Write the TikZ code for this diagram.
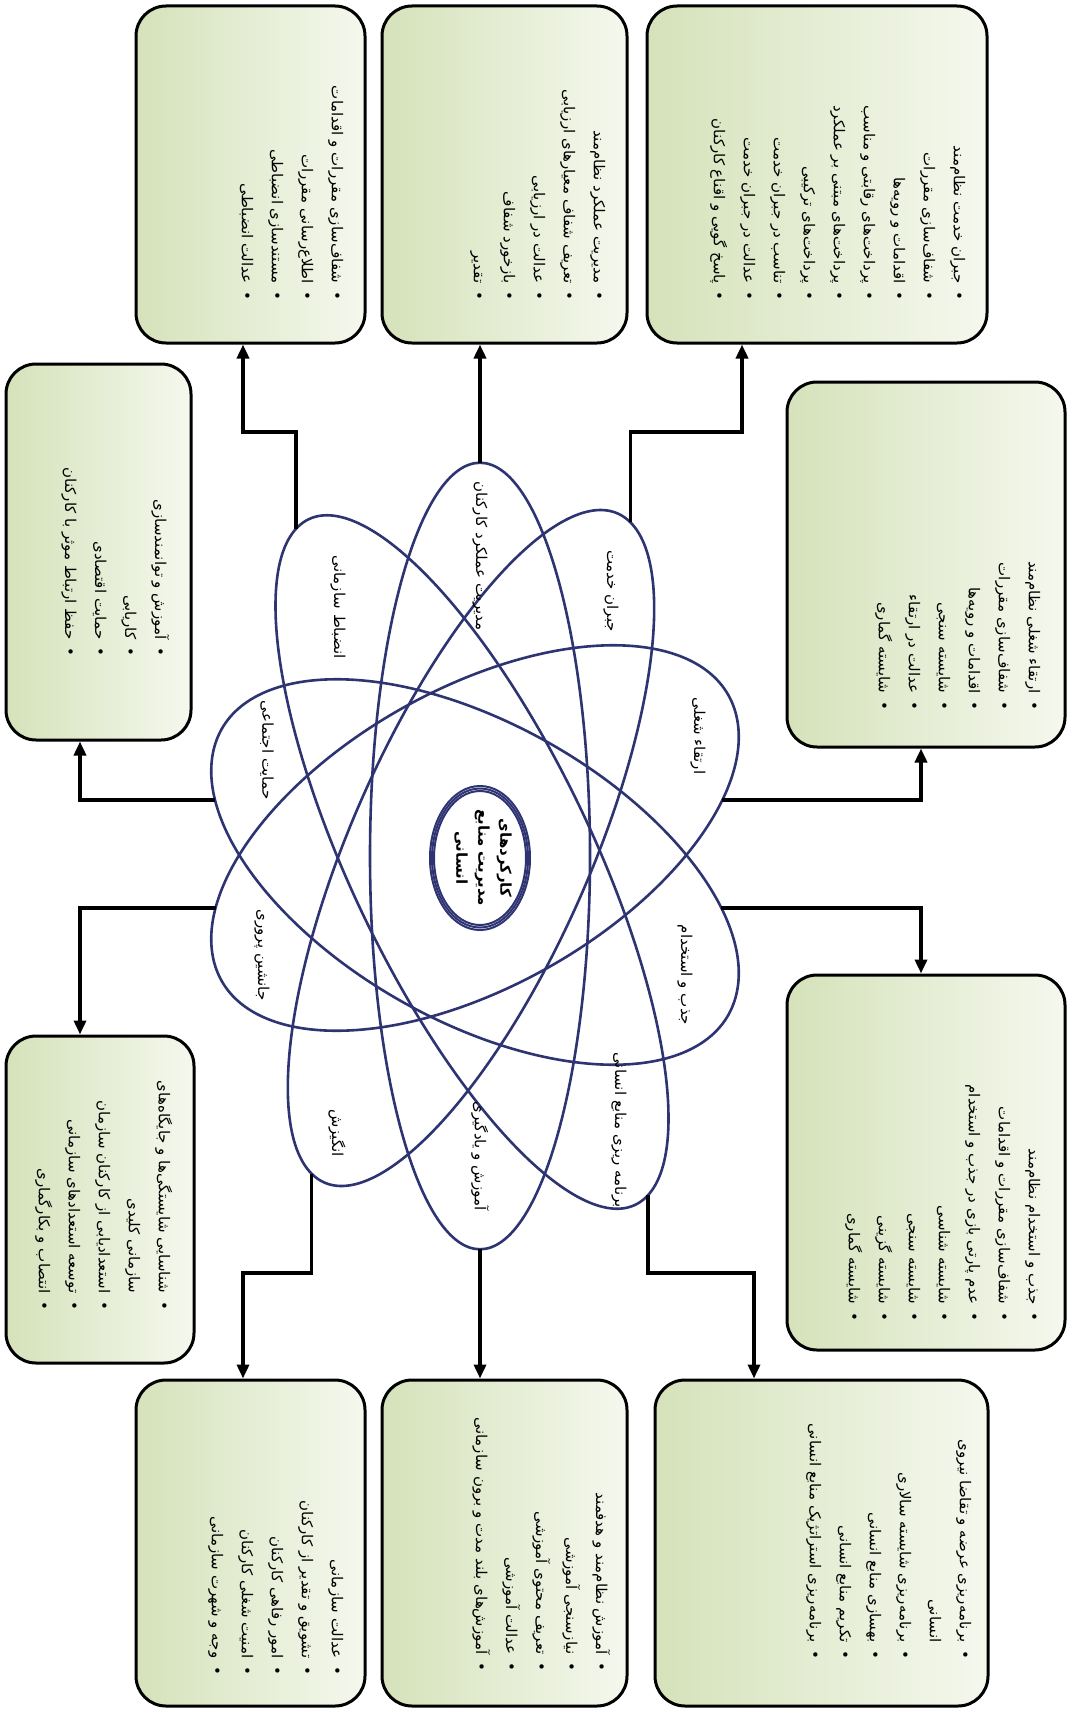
\documentclass[tikz,border=0pt]{standalone}
\usepackage{fontspec}
\usetikzlibrary{positioning,arrows.meta,shapes.geometric,calc}
\TeXXeTstate=1
\newfontfamily\fafont[Script=Arabic]{DejaVu Sans}
\definecolor{petalInk}{HTML}{2E3372}
\definecolor{boxLeft}{HTML}{D5E2BA}
\definecolor{boxRight}{HTML}{F5F8EE}
\definecolor{linkInk}{HTML}{000000}
\newcommand{\itm}[1]{\beginR•\hspace{8pt}#1\endR}
\newcommand{\cnt}[1]{\beginR\phantom{•}\hspace{8pt}#1\endR}

\begin{document}
\begin{tikzpicture}[
    x=1pt, y=-1pt,
    every node/.style={font=\fafont},
    infobox/.style={rectangle, rounded corners=30pt, draw=black, line width=3pt,
        left color=boxLeft, right color=boxRight, inner sep=0pt},
    boxtext/.style={rotate=-90, anchor=north east, align=right, inner sep=0pt,
        font=\fafont\fontsize{15}{30}\selectfont},
    petal/.style={draw=petalInk, line width=2.6pt},
    petallabel/.style={rotate=-90, inner sep=0pt, font=\fafont\fontsize{15}{18}\selectfont},
    link/.style={draw=linkInk, line width=3.6pt, -{Triangle[length=14pt,width=12pt]}},
]
\fill[white] (0,0) rectangle (1072,1710);

% --- Boxes ---
\node[infobox, minimum width=340pt, minimum height=337pt] (bTR)  at (817,174.5) {};
\node[infobox, minimum width=245pt, minimum height=337pt] (bTC)  at (504.5,174.5) {};
\node[infobox, minimum width=229pt, minimum height=337pt] (bTLC) at (250.5,174.5) {};
\node[infobox, minimum width=185pt, minimum height=376pt] (bL1)  at (98.5,552) {};
\node[infobox, minimum width=278pt, minimum height=365pt] (bR1)  at (926,564.5) {};
\node[infobox, minimum width=278pt, minimum height=375pt] (bR2)  at (926,1162.5) {};
\node[infobox, minimum width=188pt, minimum height=327pt] (bL2)  at (100,1199.5) {};
\node[infobox, minimum width=333pt, minimum height=326pt] (bBR)  at (821.5,1543) {};
\node[infobox, minimum width=245pt, minimum height=326pt] (bBC)  at (504.5,1543) {};
\node[infobox, minimum width=229pt, minimum height=326pt] (bBLC) at (250.5,1543) {};

% --- Box texts ---
\node[boxtext] (tTR) at ($(bTR.south east)+(-23,-44)$) {%
    \itm{جبران خدمت نظام^^^^200cمند}\\
    \itm{شفاف^^^^200cسازی مقررات}\\
    \itm{اقدامات و رویه^^^^200cها}\\
    \itm{پرداخت^^^^200cهای رقابتی و مناسب}\\
    \itm{پرداخت^^^^200cهای مبتنی بر عملکرد}\\
    \itm{پرداخت^^^^200cهای ترکیبی}\\
    \itm{تناسب در جبران خدمت}\\
    \itm{عدالت در جبران خدمت}\\
    \itm{پاسخ گویی و اقناع کارکنان}};
\node[boxtext] (tTC) at ($(bTC.south east)+(-23,-44)$) {%
    \itm{مدیریت عملکرد نظام^^^^200cمند}\\
    \itm{تعریف شفاف معیارهای ارزیابی}\\
    \itm{عدالت در ارزیابی}\\
    \itm{بازخورد شفاف}\\
    \itm{تقدیر}};
\node[boxtext] (tTLC) at ($(bTLC.south east)+(-23,-44)$) {%
    \itm{شفاف^^^^200cسازی مقررات و اقدامات}\\
    \itm{اطلاع^^^^200cرسانی مقررات}\\
    \itm{مستندسازی انضباطی}\\
    \itm{عدالت انضباطی}};
\node[boxtext] (tL1) at ($(bL1.south east)+(-23,-85)$) {%
    \itm{آموزش و توانمندسازی}\\
    \itm{کاریابی}\\
    \itm{حمایت اقتصادی}\\
    \itm{حفظ ارتباط موثر با کارکنان}};
\node[boxtext] (tR1) at ($(bR1.south east)+(-26,-38)$) {%
    \itm{ارتقاء شغلی نظام^^^^200cمند}\\
    \itm{شفاف^^^^200cسازی مقررات}\\
    \itm{اقدامات و رویه^^^^200cها}\\
    \itm{شایسته سنجی}\\
    \itm{عدالت در ارتقاء}\\
    \itm{شایسته گماری}};
\node[boxtext] (tR2) at ($(bR2.south east)+(-26,-30)$) {%
    \itm{جذب و استخدام نظام^^^^200cمند}\\
    \itm{شفاف^^^^200cسازی مقررات و اقدامات}\\
    \itm{عدم پارتی بازی در جذب و استخدام}\\
    \itm{شایسته شناسی}\\
    \itm{شایسته سنجی}\\
    \itm{شایسته گزینی}\\
    \itm{شایسته گماری}};
\node[boxtext] (tL2) at ($(bL2.south east)+(-23,-54)$) {%
    \itm{شناسایی شایستگی^^^^200cها و جایگاه^^^^200cهای}\\
    \cnt{سازمانی کلیدی}\\
    \itm{استعدادیابی از کارکنان سازمان}\\
    \itm{توسعه استعدادهای سازمانی}\\
    \itm{انتصاب و بکارگماری}};
\node[boxtext] (tBR) at ($(bBR.south east)+(-18,-48)$) {%
    \itm{برنامه^^^^200cریزی عرضه و تقاضا نیروی}\\
    \cnt{انسانی}\\
    \itm{برنامه^^^^200cریزی شایسته سالاری}\\
    \itm{بهسازی منابع انسانی}\\
    \itm{تکریم منابع انسانی}\\
    \itm{برنامه^^^^200cریزی استراتژیک منابع انسانی}};
\node[boxtext] (tBC) at ($(bBC.south east)+(-18,-36)$) {%
    \itm{آموزش نظام^^^^200cمند و هدفمند}\\
    \itm{نیازسنجی آموزشی}\\
    \itm{تعریف محتوی آموزشی}\\
    \itm{عدالت آموزشی}\\
    \itm{آموزش^^^^200cهای بلند مدت و برون سازمانی}};
\node[boxtext] (tBLC) at ($(bBLC.south east)+(-23,-32)$) {%
    \itm{عدالت سازمانی}\\
    \itm{تشویق و تقدیر از کارکنان}\\
    \itm{امور رفاهی کارکنان}\\
    \itm{امنیت شغلی کارکنان}\\
    \itm{وجه و شهرت سازمانی}};

% --- Petals round the core (name/centre/angle/half length) ---
\foreach \nm/\cx/\cy/\ang/\len in {A/480/856/90/275, B/471/848/55/278,
        C/472/862/127/292, D/475/838/18/275, E/475/872/162/275} {
  \begin{scope}[shift={(\cx,\cy)}, yscale=1.43]
    \draw[petal] (0,0) ellipse [x radius=\len pt, y radius=110pt, rotate=\ang];
    \coordinate (p\nm1) at (\ang:\len pt);
    \coordinate (p\nm2) at (\ang+180:\len pt);
  \end{scope}
}
\foreach \rx/\ry in {50/72, 48/69.5, 46/67}
  \draw[petal, line width=2pt] (480,858) ellipse [x radius=\rx pt, y radius=\ry pt];

% --- Petal labels ---
\node[petallabel] (lA1) at (480,556)  {\beginR مدیریت عملکرد کارکنان\endR};
\node[petallabel] (lA2) at (480,1156) {\beginR آموزش و یادگیری\endR};
\node[petallabel] (lB1) at (611,591)  {\beginR جبران خدمت\endR};
\node[petallabel] (lB2) at (337,1133) {\beginR انگیزش\endR};
\node[petallabel] (lC1) at (338,607)  {\beginR انضباط سازمانی\endR};
\node[petallabel] (lC2) at (619,1130) {\beginR برنامه ریزی منابع انسانی\endR};
\node[petallabel] (lD1) at (698,736)  {\beginR ارتقاء شغلی\endR};
\node[petallabel] (lD2) at (262,955)  {\beginR جانشین پروری\endR};
\node[petallabel] (lE1) at (267,750)  {\beginR حمایت اجتماعی\endR};
\node[petallabel] (lE2) at (685,975)  {\beginR جذب و استخدام\endR};

% --- Core ---
\node[rotate=-90, align=center, inner sep=0pt,
      font=\fafont\bfseries\fontsize{15}{22}\selectfont] (core) at (483,858)
  {\beginR کارکردهای\endR\\ \beginR مدیریت منابع\endR\\ \beginR انسانی\endR};

% --- Side points and elbows ---
\coordinate (sL1) at (215,800);
\coordinate (sL2) at (216,908);
\coordinate (sR1) at (722,800);
\coordinate (sR2) at (721,908);
\coordinate (kTLC) at (243,432);
\coordinate (kTR)  at (742,432);
\coordinate (kBLC) at (243,1273);
\coordinate (kBR)  at (754,1273);
\coordinate (kL1) at (80,800);
\coordinate (kL2) at (80,908);
\coordinate (kR1) at (921,800);
\coordinate (kR2) at (921,908);

% --- Connectors ---
\draw[link] (pC1) |- (kTLC) -- (kTLC |- bTLC.south);
\draw[link] (pA1) -- (pA1 |- bTC.south);
\draw[link] (pB1) |- (kTR) -- (kTR |- bTR.south);
\draw[link] (sL1) -- (kL1) -- (kL1 |- bL1.south);
\draw[link] (sL2) -- (kL2) -- (kL2 |- bL2.north);
\draw[link] (sR1) -- (kR1) -- (kR1 |- bR1.south);
\draw[link] (sR2) -- (kR2) -- (kR2 |- bR2.north);
\draw[link] (pB2) |- (kBLC) -- (kBLC |- bBLC.north);
\draw[link] (pA2) -- (pA2 |- bBC.north);
\draw[link] (pC2) |- (kBR) -- (kBR |- bBR.north);

\end{tikzpicture}
\end{document}
